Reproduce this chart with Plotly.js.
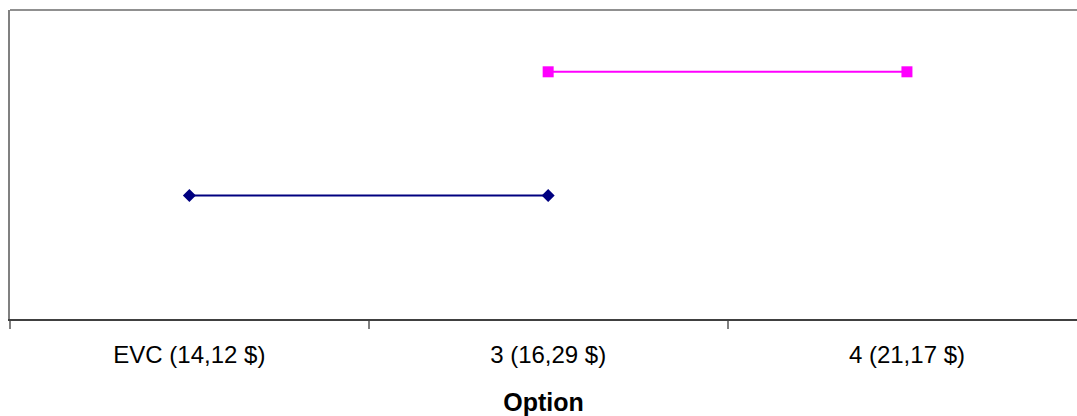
<!DOCTYPE html>
<html>
<head>
<meta charset="utf-8">
<script src="https://cdn.plot.ly/plotly-3.0.1.min.js"></script>
<style>html,body{margin:0;padding:0;background:#fff;overflow:hidden;}</style>
</head>
<body>
<div id="chart" style="width:1077px;height:416px;"></div>
<script>
const categories = ["EVC (14,12 $)", "3 (16,29 $)", "4 (21,17 $)"];
const series1X = ["EVC (14,12 $)", "3 (16,29 $)"];
const series1Y = [1, 1];
const series2X = ["3 (16,29 $)", "4 (21,17 $)"];
const series2Y = [2, 2];

const traces = [
  {
    x: series1X, y: series1Y, type: "scatter", mode: "lines+markers",
    line: {color: "#000080", width: 2},
    marker: {symbol: "diamond", size: 10, color: "#000080"},
    showlegend: false, cliponaxis: false
  },
  {
    x: series2X, y: series2Y, type: "scatter", mode: "lines+markers",
    line: {color: "#FF00FF", width: 2},
    marker: {symbol: "square", size: 11, color: "#FF00FF"},
    showlegend: false, cliponaxis: false
  }
];

const layout = {
  width: 1077, height: 416,
  margin: {l: 10, r: 0, t: 10, b: 97},
  paper_bgcolor: "#fff", plot_bgcolor: "#fff",
  font: {family: "Liberation Sans, Arial, sans-serif", color: "#000"},
  xaxis: {
    type: "category",
    categoryorder: "array", categoryarray: categories,
    tickvals: categories,
    range: [-0.5, 2.474],
    tickson: "boundaries",
    ticks: "outside", ticklen: 8, tickwidth: 2, tickcolor: "#808080",
    showline: true, linecolor: "#404040", linewidth: 2,
    showgrid: false, zeroline: false,
    tickfont: {size: 24, family: "Liberation Sans, Arial, sans-serif"},
    ticklabelstandoff: 13,
    title: {text: "<b>Option</b>", font: {size: 25, family: "Liberation Sans, Arial, sans-serif"}, standoff: 27}
  },
  yaxis: {
    range: [0, 2.5],
    showticklabels: false, ticks: "",
    showgrid: false, zeroline: false,
    showline: true, linecolor: "#808080", linewidth: 2
  },
  shapes: [
    {type: "line", xref: "paper", yref: "paper", x0: 0, x1: 1, y0: 1, y1: 1,
     line: {color: "#909090", width: 2}}
  ]
};

Plotly.newPlot("chart", traces, layout, {displayModeBar: false, staticPlot: true});
</script>
</body>
</html>
